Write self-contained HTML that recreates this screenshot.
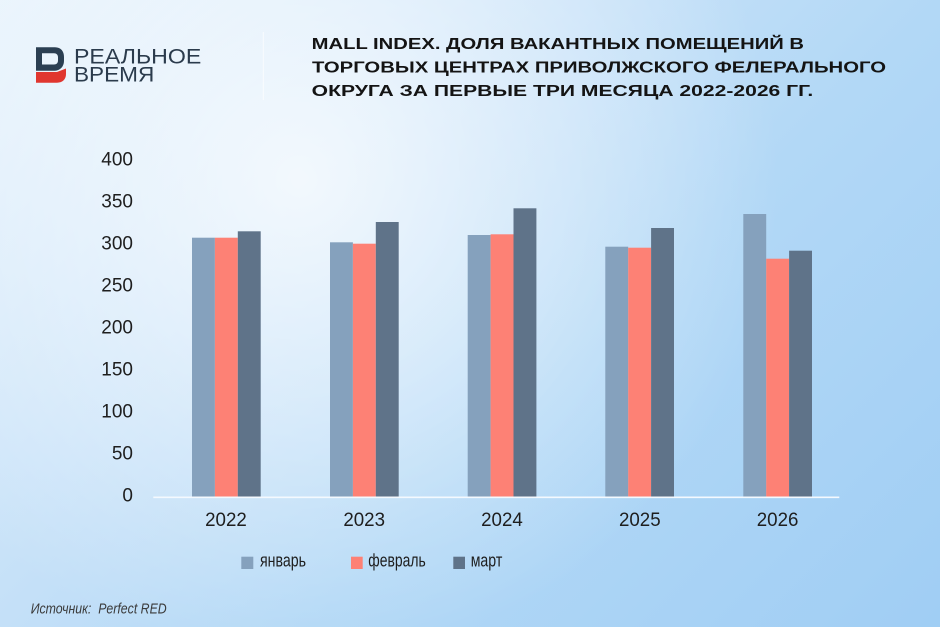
<!DOCTYPE html>
<html>
<head>
<meta charset="utf-8">
<style>
  html,body{margin:0;padding:0;}
  body{width:940px;height:627px;overflow:hidden;}
  svg{display:block;}
</style>
</head>
<body>
<svg width="940" height="627" viewBox="0 0 940 627" xmlns="http://www.w3.org/2000/svg">
  <defs>
    <linearGradient id="bg" gradientUnits="userSpaceOnUse" x1="0" y1="0" x2="800" y2="800">
      <stop offset="0" stop-color="#e6f2fc"/>
      <stop offset="0.39" stop-color="#c4e0f8"/>
      <stop offset="0.59" stop-color="#b2d8f6"/>
      <stop offset="1" stop-color="#9fcdf4"/>
    </linearGradient>
    <radialGradient id="glow" gradientUnits="userSpaceOnUse" cx="300" cy="180" r="480">
      <stop offset="0" stop-color="#ffffff" stop-opacity="0.75"/>
      <stop offset="1" stop-color="#ffffff" stop-opacity="0"/>
    </radialGradient>
  </defs>
  <rect x="0" y="0" width="940" height="627" fill="url(#bg)"/>
  <rect x="0" y="0" width="940" height="627" fill="url(#glow)"/>

  <!-- Logo -->
  <path fill-rule="evenodd" fill="#2b3f52" d="M36,47.3 H55 C61,47.3 64,51.5 64,57 V61 C64,66.5 60,70.5 55,70.8 H36 Z M42,53.3 V64.5 H54 C56.5,64.5 58,63 58,60.5 V57.3 C58,54.8 56.5,53.3 54,53.3 Z"/>
  <path fill="#e0362f" d="M36,72 H57 L66,68.5 V74 C66,79.5 62.5,82.7 57,82.7 H36 Z"/>
  <text x="74" y="63.3" font-family="Liberation Sans, sans-serif" font-size="21.5" fill="#2b3b4c" textLength="127.3" lengthAdjust="spacingAndGlyphs">РЕАЛЬНОЕ</text>
  <text x="74" y="81.7" font-family="Liberation Sans, sans-serif" font-size="21.5" fill="#2b3b4c" textLength="80.3" lengthAdjust="spacingAndGlyphs">ВРЕМЯ</text>

  <!-- separator -->
  <line x1="263.3" y1="32" x2="263.3" y2="100" stroke="#ffffff" stroke-opacity="0.7" stroke-width="1"/>

  <!-- Title -->
  <g font-family="Liberation Sans, sans-serif" font-weight="bold" font-size="16" fill="#141414">
    <text x="311.7" y="49" textLength="492.3" lengthAdjust="spacingAndGlyphs">MALL INDEX. ДОЛЯ ВАКАНТНЫХ ПОМЕЩЕНИЙ В</text>
    <text x="312" y="72.3" textLength="574" lengthAdjust="spacingAndGlyphs">ТОРГОВЫХ ЦЕНТРАХ ПРИВОЛЖСКОГО ФЕЛЕРАЛЬНОГО</text>
    <text x="311.7" y="96" textLength="501.6" lengthAdjust="spacingAndGlyphs">ОКРУГА ЗА ПЕРВЫЕ ТРИ МЕСЯЦА 2022-2026 ГГ.</text>
  </g>

  <!-- Y axis labels -->
  <g font-family="Liberation Sans, sans-serif" font-size="19" fill="#1e1e1e" text-anchor="end">
    <text x="133" y="165.6">400</text>
    <text x="133" y="207.6">350</text>
    <text x="133" y="249.6">300</text>
    <text x="133" y="291.6">250</text>
    <text x="133" y="333.6">200</text>
    <text x="133" y="375.6">150</text>
    <text x="133" y="417.6">100</text>
    <text x="133" y="459.6">50</text>
    <text x="133" y="501.6">0</text>
  </g>

  <!-- Bars -->
  <g>
    <!-- 2022 -->
    <rect x="192" y="237.7" width="22.9" height="258.8" fill="#85a1bd"/>
    <rect x="214.9" y="237.7" width="22.9" height="258.8" fill="#fd8175"/>
    <rect x="237.8" y="231.3" width="22.9" height="265.2" fill="#5f7389"/>
    <!-- 2023 -->
    <rect x="330" y="242.3" width="22.9" height="254.2" fill="#85a1bd"/>
    <rect x="352.9" y="243.7" width="22.9" height="252.8" fill="#fd8175"/>
    <rect x="375.8" y="222" width="22.9" height="274.5" fill="#5f7389"/>
    <!-- 2024 -->
    <rect x="467.7" y="235" width="22.9" height="261.5" fill="#85a1bd"/>
    <rect x="490.6" y="234.3" width="22.9" height="262.2" fill="#fd8175"/>
    <rect x="513.5" y="208.3" width="22.9" height="288.2" fill="#5f7389"/>
    <!-- 2025 -->
    <rect x="605.3" y="246.7" width="22.9" height="249.8" fill="#85a1bd"/>
    <rect x="628.2" y="247.7" width="22.9" height="248.8" fill="#fd8175"/>
    <rect x="651.1" y="228" width="22.9" height="268.5" fill="#5f7389"/>
    <!-- 2026 -->
    <rect x="743.3" y="214" width="22.9" height="282.5" fill="#85a1bd"/>
    <rect x="766.2" y="258.7" width="22.9" height="237.8" fill="#fd8175"/>
    <rect x="789.1" y="250.7" width="22.9" height="245.8" fill="#5f7389"/>
  </g>

  <!-- X axis line -->
  <line x1="153.3" y1="497.3" x2="839.3" y2="497.3" stroke="#f4f9fe" stroke-width="1.6"/>

  <!-- X labels -->
  <g font-family="Liberation Sans, sans-serif" font-size="19" fill="#1e1e1e" text-anchor="middle">
    <text x="226" y="526" textLength="41.7" lengthAdjust="spacingAndGlyphs">2022</text>
    <text x="364.2" y="526" textLength="41.7" lengthAdjust="spacingAndGlyphs">2023</text>
    <text x="502" y="526" textLength="41.7" lengthAdjust="spacingAndGlyphs">2024</text>
    <text x="639.8" y="526" textLength="41.7" lengthAdjust="spacingAndGlyphs">2025</text>
    <text x="777.6" y="526" textLength="41.7" lengthAdjust="spacingAndGlyphs">2026</text>
  </g>

  <!-- Legend -->
  <rect x="241.3" y="556.7" width="12" height="12.3" fill="#85a1bd"/>
  <rect x="351" y="556.7" width="11.7" height="12.3" fill="#fd8175"/>
  <rect x="453.3" y="556.7" width="11.7" height="12.3" fill="#5f7389"/>
  <g font-family="Liberation Sans, sans-serif" font-size="18" fill="#1e1e1e">
    <text x="260" y="566.7" textLength="46" lengthAdjust="spacingAndGlyphs">январь</text>
    <text x="368.3" y="566.7" textLength="57.4" lengthAdjust="spacingAndGlyphs">февраль</text>
    <text x="470.7" y="566.7" textLength="31.6" lengthAdjust="spacingAndGlyphs">март</text>
  </g>

  <!-- Source -->
  <text x="30.7" y="613.3" font-family="Liberation Sans, sans-serif" font-style="italic" font-size="15" fill="#3a3a3a" textLength="136" lengthAdjust="spacingAndGlyphs" xml:space="preserve">Источник:  Perfect RED</text>
</svg>
</body>
</html>
